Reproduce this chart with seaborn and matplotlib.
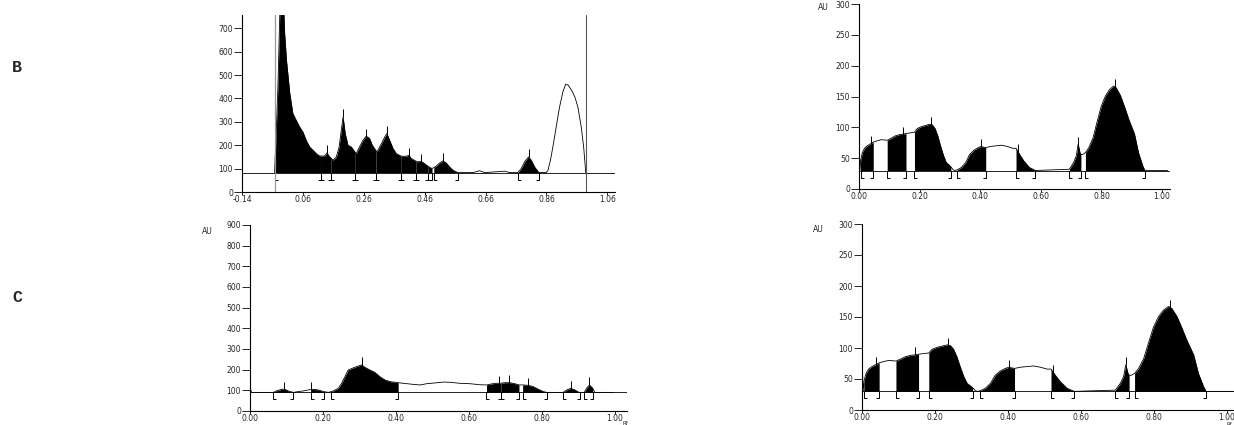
import numpy as np
import matplotlib
matplotlib.use("Agg")
import matplotlib.pyplot as plt
import seaborn as sns
from matplotlib.path import Path
from matplotlib.transforms import offset_copy

sns.set_style("ticks")
plt.rcParams['font.family'] = ['DejaVu Sans']

# Chromatogram B (left): Rf / AU
b_rf = [-0.033, -0.027, -0.022, -0.016, -0.011, -0.005, 0.000, 0.006, 0.017, 0.027,
        0.038, 0.049, 0.060, 0.071, 0.082, 0.093, 0.104, 0.115, 0.131, 0.139,
        0.148, 0.159, 0.170, 0.179, 0.186, 0.192, 0.199, 0.208, 0.219, 0.235,
        0.246, 0.257, 0.268, 0.279, 0.288, 0.303, 0.318, 0.329, 0.336, 0.345,
        0.356, 0.367, 0.383, 0.400, 0.408, 0.416, 0.435, 0.449, 0.460, 0.471,
        0.484, 0.498, 0.509, 0.520, 0.531, 0.542, 0.553, 0.569, 0.619, 0.640,
        0.657, 0.723, 0.739, 0.766, 0.777, 0.788, 0.801, 0.810, 0.821, 0.835,
        0.859, 0.865, 0.873, 0.881, 0.892, 0.903, 0.914, 0.923, 0.931, 0.942,
        0.953, 0.963, 0.974, 0.982, 0.989]
b_au = [83, 279, 450, 757, 950, 850, 679, 564, 421, 336,
        307, 279, 257, 221, 193, 179, 164, 154, 154, 167,
        150, 136, 150, 193, 264, 321, 250, 200, 193, 164,
        193, 221, 239, 229, 200, 171, 207, 236, 250, 221,
        186, 164, 153, 153, 157, 143, 129, 131, 121, 110,
        100, 111, 124, 133, 124, 107, 93, 83, 83, 91,
        83, 89, 83, 83, 100, 129, 150, 136, 107, 83,
        83, 93, 136, 193, 279, 364, 429, 461, 457, 436,
        407, 364, 279, 193, 83]
b_base = 83
b_segments = [(-0.031, 0.121), (0.121, 0.153), (0.153, 0.232), (0.232, 0.300),
              (0.300, 0.383), (0.383, 0.431), (0.431, 0.471), (0.471, 0.484),
              (0.490, 0.569), (0.766, 0.835)]
b_apex = [0.139, 0.192, 0.268, 0.336, 0.408, 0.449, 0.520, 0.801]
b_marks = [-0.033, 0.989]
b_xticks = [-0.14, 0.06, 0.26, 0.46, 0.66, 0.86, 1.06]
b_yticks = [0, 100, 200, 300, 400, 500, 600, 700]

# Chromatogram C (left)
c_rf = [0.000, 0.004, 0.064, 0.073, 0.087, 0.094, 0.105, 0.119, 0.132, 0.146,
        0.160, 0.172, 0.187, 0.201, 0.215, 0.228, 0.242, 0.251, 0.260, 0.269,
        0.279, 0.292, 0.306, 0.315, 0.329, 0.342, 0.356, 0.370, 0.384, 0.406,
        0.420, 0.447, 0.466, 0.484, 0.502, 0.530, 0.548, 0.575, 0.603, 0.630,
        0.648, 0.671, 0.685, 0.699, 0.712, 0.726, 0.737, 0.749, 0.763, 0.776,
        0.790, 0.804, 0.813, 0.858, 0.868, 0.879, 0.890, 0.902, 0.916, 0.922,
        0.930, 0.939, 0.945, 0.995]
c_au = [118, 90, 90, 98, 105, 106, 97, 90, 94, 97,
        102, 105, 102, 94, 90, 97, 110, 134, 166, 198,
        206, 215, 223, 211, 198, 187, 166, 150, 142, 137,
        134, 129, 126, 132, 135, 140, 139, 134, 132, 127,
        126, 134, 134, 137, 137, 132, 126, 126, 124, 118,
        105, 94, 90, 90, 102, 110, 102, 90, 90, 110,
        126, 110, 90, 90]
c_base = 90
c_segments = [(0.062, 0.119), (0.166, 0.203), (0.222, 0.406), (0.648, 0.688),
              (0.688, 0.737), (0.747, 0.815), (0.858, 0.903), (0.916, 0.939)]
c_apex = [0.094, 0.167, 0.306, 0.682, 0.709, 0.763, 0.879, 0.930]
c_xticks = [0.0, 0.2, 0.4, 0.6, 0.8, 1.0]
c_yticks = [0, 100, 200, 300, 400, 500, 600, 700, 800, 900]

# Right-hand chromatogram (same track shown twice)
r_rf = [0.000, 0.003, 0.006, 0.011, 0.018, 0.027, 0.037, 0.047, 0.059, 0.073,
        0.093, 0.105, 0.119, 0.132, 0.146, 0.155, 0.169, 0.183, 0.192, 0.205,
        0.219, 0.233, 0.242, 0.251, 0.260, 0.269, 0.279, 0.288, 0.297, 0.303,
        0.311, 0.317, 0.324, 0.338, 0.352, 0.365, 0.379, 0.393, 0.402, 0.418,
        0.434, 0.452, 0.470, 0.489, 0.507, 0.518, 0.530, 0.543, 0.562, 0.582,
        0.635, 0.694, 0.708, 0.717, 0.723, 0.729, 0.732, 0.738, 0.747, 0.758,
        0.772, 0.785, 0.799, 0.813, 0.826, 0.840, 0.849, 0.863, 0.877, 0.890,
        0.909, 0.922, 0.936, 0.943, 1.018]
r_au = [94, 30, 48, 59, 66, 70, 73, 76, 78, 80,
        79, 82, 86, 88, 89, 90, 91, 92, 98, 101,
        103, 105, 104, 98, 86, 70, 54, 43, 39, 36,
        31, 30, 31, 35, 43, 56, 63, 67, 69, 67,
        69, 70, 71, 69, 66, 66, 56, 46, 35, 30,
        31, 32, 43, 54, 73, 59, 56, 56, 59, 67,
        83, 108, 134, 151, 161, 167, 164, 151, 132, 113,
        89, 59, 38, 30, 30]
r_base = 30
r_segments = [(0.005, 0.047), (0.093, 0.155), (0.183, 0.303), (0.324, 0.418),
              (0.518, 0.582), (0.694, 0.732), (0.747, 0.943)]
r_apex = [0.039, 0.144, 0.237, 0.402, 0.524, 0.723, 0.844]
r_xticks = [0.0, 0.2, 0.4, 0.6, 0.8, 1.0]
r_yticks = [0, 50, 100, 150, 200, 250, 300]

W, H = 1234, 425
fig = plt.figure(figsize=(W / 100, H / 100), dpi=100)

left_br = Path([(0, 0), (0, -1), (0.5, -1)], [Path.MOVETO, Path.LINETO, Path.LINETO])
right_br = Path([(0, 0), (0, -1), (-0.5, -1)], [Path.MOVETO, Path.LINETO, Path.LINETO])


def panel(box, rf, au, base, segments, apex, xlim, ylim, xticks, yticks, xfmt):
    l, t, r, b = box
    ax = fig.add_axes([l / W, 1 - b / H, (r - l) / W, (b - t) / H])
    ax.set_xlim(*xlim)
    ax.set_ylim(*ylim)
    ax.axhline(base, color='#222222', lw=0.7, zorder=1)
    sns.lineplot(x=rf, y=au, ax=ax, color='black', lw=0.6, sort=False, zorder=3)
    for a, e in segments:
        xs = [a] + [x for x in rf if a < x < e] + [e]
        ys = np.interp(xs, rf, au)
        ax.fill_between(xs, base, ys, color='black', lw=0, zorder=2)
        ax.plot([a], [base], ls='none', marker=left_br, ms=10, mew=0.7,
                mfc='none', color='black')
        ax.plot([e], [base], ls='none', marker=right_br, ms=10, mew=0.7,
                mfc='none', color='black')
    up = offset_copy(ax.transData, fig=fig, x=0, y=2.5, units='points')
    ax.plot(apex, np.interp(apex, rf, au), ls='none', marker='|', ms=6,
            mew=0.7, color='black', transform=up, zorder=4)
    ax.set_xticks(xticks)
    ax.set_xticklabels([xfmt % v for v in xticks])
    ax.set_yticks(yticks)
    ax.tick_params(axis='y', length=6, width=0.7, pad=0.5, labelsize=5.5)
    ax.tick_params(axis='x', length=2, width=0.7, pad=0.5, labelsize=5.5)
    for s in ['left', 'bottom']:
        ax.spines[s].set_linewidth(0.8)
        ax.spines[s].set_color('black')
    sns.despine(ax=ax)
    ax.set_facecolor('none')
    return ax


ax_b = panel((242, 15, 615, 192), b_rf, b_au, b_base, b_segments, b_apex,
             (-0.14, 1.085), (0, 757), b_xticks, b_yticks, '%.2f')
ax_b.axvline(b_marks[0], color='#999999', lw=0.9, zorder=5)
ax_b.axvline(b_marks[1], color='#555555', lw=0.8, zorder=5)

panel((859, 4, 1170, 189), r_rf, r_au, r_base, r_segments, r_apex,
      (0, 1.026), (0, 300), r_xticks, r_yticks, '%.2f')
panel((250, 225, 627, 411), c_rf, c_au, c_base, c_segments, c_apex,
      (0, 1.033), (0, 900), c_xticks, c_yticks, '%.2f')
panel((862, 224, 1236, 410), r_rf, r_au, r_base, r_segments, r_apex,
      (0, 1.025), (0, 300), r_xticks, r_yticks, '%.2f')

for x, y in [(823, 8), (207, 231), (818, 229)]:
    fig.text(x / W, 1 - y / H, 'AU', fontsize=5.5, ha='center', va='center')
for x, y in [(625, 421), (1229, 421.5)]:
    fig.text(x / W, 1 - y / H, 'Rf', fontsize=4, ha='center', va='top')

fig.text(17 / W, 1 - 68 / H, 'B', family='Liberation Mono', fontweight='bold',
         fontsize=12, ha='center', va='center')
fig.text(17 / W, 1 - 298 / H, 'C', family='Liberation Mono', fontweight='bold',
         fontsize=12, ha='center', va='center')

fig.savefig('out.png', dpi=100, facecolor='white')
